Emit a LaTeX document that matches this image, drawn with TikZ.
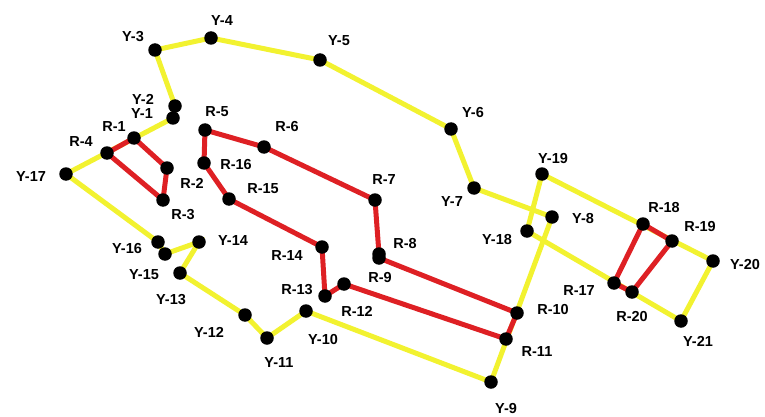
\documentclass[tikz,border=0pt]{standalone}
\usepackage{fontspec}
\setmainfont{Liberation Sans}
\definecolor{ylw}{RGB}{242,242,48}
\definecolor{rd}{RGB}{222,32,36}
\begin{document}
\begin{tikzpicture}[x=1pt,y=-1pt,
  dot/.style={circle,fill=black,inner sep=0pt,minimum size=13.5pt},
  lbl/.style={font=\bfseries\fontsize{14.5}{15}\selectfont,inner sep=0pt,text=black},
  yl/.style={draw=ylw,line width=5pt},
  rl/.style={draw=rd,line width=5pt}]
\useasboundingbox (0,0) rectangle (765,417);
% coordinates
\coordinate (Y1) at (173,118); \coordinate (Y2) at (175,106);
\coordinate (Y3) at (155,50);  \coordinate (Y4) at (211,38);
\coordinate (Y5) at (320,60);  \coordinate (Y6) at (451,129);
\coordinate (Y7) at (474,188); \coordinate (Y8) at (552,217);
\coordinate (Y9) at (491,382); \coordinate (Y10) at (306,311);
\coordinate (Y11) at (267,338); \coordinate (Y12) at (245,315);
\coordinate (Y13) at (180,273); \coordinate (Y14) at (199,242);
\coordinate (Y15) at (165,254); \coordinate (Y16) at (158,242);
\coordinate (Y17) at (66,174); \coordinate (Y18) at (527,231);
\coordinate (Y19) at (542,174); \coordinate (Y20) at (713,261);
\coordinate (Y21) at (681,321);
\coordinate (R1) at (134,138); \coordinate (R2) at (167,168);
\coordinate (R3) at (163,200); \coordinate (R4) at (107,153);
\coordinate (R5) at (205,130); \coordinate (R6) at (264,147);
\coordinate (R7) at (375,200); \coordinate (R8) at (379,254);
\coordinate (R9) at (379,258); \coordinate (R10) at (517,313);
\coordinate (R11) at (506,339); \coordinate (R12) at (344,284);
\coordinate (R13) at (325,296); \coordinate (R14) at (322,247);
\coordinate (R15) at (229,199); \coordinate (R16) at (204,163);
\coordinate (R17) at (614,283); \coordinate (R18) at (643,224);
\coordinate (R19) at (672,241); \coordinate (R20) at (632,292);
% yellow lines
\draw[yl] (Y1) -- (Y2) -- (Y3) -- (Y4) -- (Y5) -- (Y6) -- (Y7) -- (Y8) -- (Y9)
  -- (Y10) -- (Y11) -- (Y12) -- (Y13) -- (Y14) -- (Y15) -- (Y16) -- (Y17) -- (Y1);
\draw[yl] (Y19) -- (Y18);
\draw[yl] (Y19) -- (Y20) -- (Y21) -- (Y18);
% red lines
\draw[rl] (R1) -- (R2) -- (R3) -- (R4) -- cycle;
\draw[rl] (R5) -- (R6) -- (R7) -- (R8) -- (R9) -- (R10) -- (R11) -- (R12) -- (R13)
  -- (R14) -- (R15) -- (R16) -- cycle;
\draw[rl] (R17) -- (R18) -- (R19) -- (R20) -- cycle;
% dots
\foreach \n in {Y1,Y2,Y3,Y4,Y5,Y6,Y7,Y8,Y9,Y10,Y11,Y12,Y13,Y14,Y15,Y16,Y17,Y18,Y19,Y20,Y21,
  R1,R2,R3,R4,R5,R6,R7,R8,R9,R10,R11,R12,R13,R14,R15,R16,R17,R18,R19,R20}
  \node[dot] (d\n) at (\n) {};
% labels
\node[lbl] (lY1) at (142,114) {Y-1};
\node[lbl] (lY2) at (143,99) {Y-2};
\node[lbl] (lY3) at (133,37) {Y-3};
\node[lbl] (lY4) at (222,21) {Y-4};
\node[lbl] (lY5) at (339,41) {Y-5};
\node[lbl] (lY6) at (473,113) {Y-6};
\node[lbl] (lY7) at (452,202) {Y-7};
\node[lbl] (lY8) at (583,219) {Y-8};
\node[lbl] (lY9) at (506,409) {Y-9};
\node[lbl] (lY10) at (323,340) {Y-10};
\node[lbl] (lY11) at (279,363) {Y-11};
\node[lbl] (lY12) at (209,332) {Y-12};
\node[lbl] (lY13) at (171,300) {Y-13};
\node[lbl] (lY14) at (233,241) {Y-14};
\node[lbl] (lY15) at (144,275) {Y-15};
\node[lbl] (lY16) at (127,249) {Y-16};
\node[lbl] (lY17) at (31,177) {Y-17};
\node[lbl] (lY18) at (497,240) {Y-18};
\node[lbl] (lY19) at (553,159) {Y-19};
\node[lbl] (lY20) at (745,265) {Y-20};
\node[lbl] (lY21) at (698,341) {Y-21};
\node[lbl] (lR1) at (114,127) {R-1};
\node[lbl] (lR2) at (192,183) {R-2};
\node[lbl] (lR3) at (183,215) {R-3};
\node[lbl] (lR4) at (81,142) {R-4};
\node[lbl] (lR5) at (217,112) {R-5};
\node[lbl] (lR6) at (287,127) {R-6};
\node[lbl] (lR7) at (384,180) {R-7};
\node[lbl] (lR8) at (405,244) {R-8};
\node[lbl] (lR9) at (380,278) {R-9};
\node[lbl] (lR10) at (553,310) {R-10};
\node[lbl] (lR11) at (537,352) {R-11};
\node[lbl] (lR12) at (357,311) {R-12};
\node[lbl] (lR13) at (297,290) {R-13};
\node[lbl] (lR14) at (287,256) {R-14};
\node[lbl] (lR15) at (263,189) {R-15};
\node[lbl] (lR16) at (236,165) {R-16};
\node[lbl] (lR17) at (579,291) {R-17};
\node[lbl] (lR18) at (664,208) {R-18};
\node[lbl] (lR19) at (700,227) {R-19};
\node[lbl] (lR20) at (632,317) {R-20};
\end{tikzpicture}
\end{document}
